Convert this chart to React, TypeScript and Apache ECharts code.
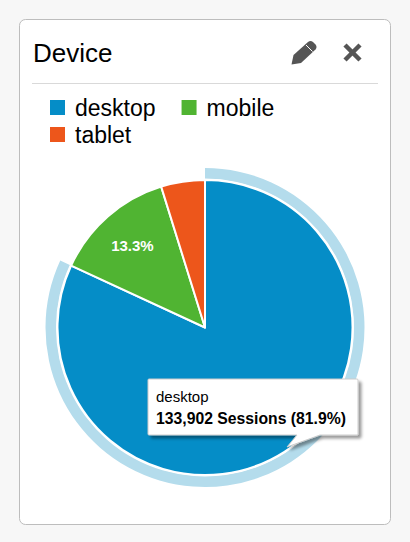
import React, { useEffect, useRef } from "react";
import * as echarts from "echarts";

const title = "Device";
const categories = ["desktop", "mobile", "tablet"];
const sessions = [133902, 21745, 7847];
const colors = ["#058dc7", "#50b432", "#ed561b"];
const highlightColor = "#b4dcec";
const tipName = "desktop";
const tipValue = "133,902 Sessions (81.9%)";
const sliceLabel = "13.3%";

const FONT = "'Liberation Sans', Arial, sans-serif";

echarts.graphic.registerShape(
  "pencilIcon",
  echarts.graphic.extendPath(
    "M291.5 64.5 L293.5 55 L308 42 Q310.5 40 313 42 L315.5 44.5 Q317.5 47 315.5 49.5 L301 63 Z",
    {}
  )
);
echarts.graphic.registerShape(
  "tipBox",
  echarts.graphic.extendPath(
    "M149 379 L357 379 Q358 379 358 380 L358 434 Q358 435 357 435 L320 435 L287 447 L297 435 L149 435 Q148 435 148 434 L148 380 Q148 379 149 379 Z",
    {}
  )
);

export default function App() {
  const ref = useRef<HTMLDivElement>(null);
  useEffect(() => {
    const chart = echarts.init(ref.current!, null, { renderer: "svg" });
    const legendBase = {
      icon: "rect",
      itemWidth: 17,
      itemHeight: 17,
      itemGap: 24,
      left: 48,
      padding: 0,
      selectedMode: false,
      textStyle: { fontFamily: FONT, fontSize: 23, color: "#000", padding: [0, 0, 0, 4] },
    };
    chart.setOption({
      animation: false,
      backgroundColor: "#f7f7f7",
      legend: [
        { ...legendBase, top: 96, data: categories.slice(0, 2) },
        { ...legendBase, top: 123, data: categories.slice(2) },
      ],
      series: [
        {
          type: "pie",
          center: [205, 327.5],
          radius: [0, 147.5],
          startAngle: 90,
          clockwise: true,
          silent: true,
          itemStyle: { borderColor: "#fff", borderWidth: 2 },
          labelLine: { show: false },
          labelLayout: { dx: -22, dy: -24 },
          data: categories.map((name, i) => ({
            name,
            value: sessions[i],
            itemStyle: { color: colors[i] },
            label:
              i === 1
                ? {
                    show: true,
                    position: "inside",
                    formatter: sliceLabel,
                    color: "#fff",
                    fontFamily: FONT,
                    fontSize: 15,
                    fontWeight: "bold",
                  }
                : { show: false },
          })),
          z: 2,
        },
        {
          type: "pie",
          center: [205, 327.5],
          radius: [149, 159.5],
          startAngle: 90,
          clockwise: true,
          silent: true,
          label: { show: false },
          labelLine: { show: false },
          data: categories.map((name, i) => ({
            name,
            value: sessions[i],
            itemStyle: { color: i === 0 ? highlightColor : "transparent" },
          })),
          z: 1,
        },
      ],
      graphic: [
        {
          type: "rect",
          z: -10,
          shape: { x: 19.5, y: 19.5, width: 371, height: 505, r: 6 },
          style: { fill: "#fff", stroke: "#bdbdbd", lineWidth: 1 },
        },
        {
          type: "line",
          shape: { x1: 32, y1: 83.5, x2: 378, y2: 83.5 },
          style: { stroke: "#d9d9d9", lineWidth: 1 },
        },
        {
          type: "text",
          x: 33,
          y: 40,
          style: { text: title, fontFamily: FONT, fontSize: 26, fill: "#000" },
        },
        { type: "pencilIcon", x: 0, y: 0, style: { fill: "#555" } },
        {
          type: "line",
          shape: { x1: 306, y1: 45, x2: 312.5, y2: 51.5 },
          style: { stroke: "#fff", lineWidth: 1 },
        },
        {
          type: "line",
          shape: { x1: 345, y1: 45, x2: 360, y2: 60 },
          style: { stroke: "#555", lineWidth: 4.5 },
        },
        {
          type: "line",
          shape: { x1: 360, y1: 45, x2: 345, y2: 60 },
          style: { stroke: "#555", lineWidth: 4.5 },
        },
        {
          type: "tipBox",
          x: 0,
          y: 0,
          z: 10,
          style: {
            fill: "#fff",
            stroke: "#cccccc",
            lineWidth: 1,
            shadowBlur: 3,
            shadowOffsetX: 3,
            shadowOffsetY: 3,
            shadowColor: "rgba(0,0,0,0.4)",
          },
        },
        {
          type: "text",
          x: 156,
          y: 389,
          z: 11,
          style: { text: tipName, fontFamily: FONT, fontSize: 15, fill: "#000" },
        },
        {
          type: "text",
          x: 156,
          y: 410,
          z: 11,
          style: { text: tipValue, fontFamily: FONT, fontSize: 15.75, fontWeight: "bold", fill: "#000" },
        },
      ],
    });
    return () => chart.dispose();
  }, []);
  return (
    <div
      ref={ref}
      style={{ position: "absolute", left: 0, top: 0, width: 410, height: 542 }}
    />
  );
}
